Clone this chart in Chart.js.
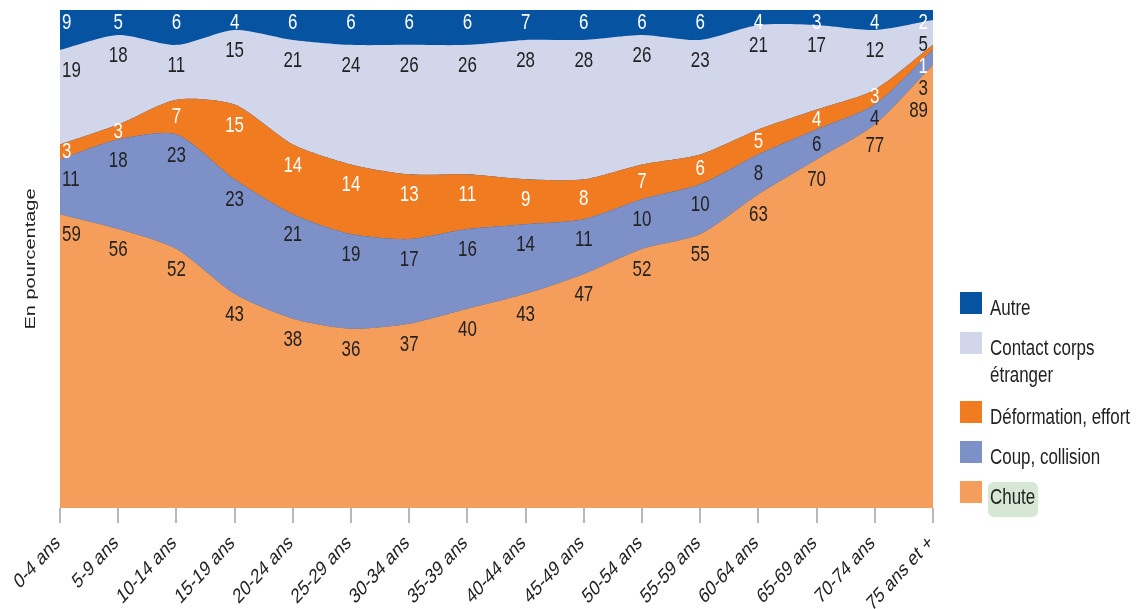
<!DOCTYPE html>
<html lang="fr">
<head>
  <meta charset="UTF-8">
  <title>Accidents selon l'âge</title>
  <script src="https://cdn.jsdelivr.net/npm/chart.js"></script>
  <style>
    html, body { margin: 0; padding: 0; background: #fff; }
    canvas { display: block; }
  </style>
</head>
<body>
  <canvas id="chart" width="1139" height="609"></canvas>
  <script>
    // categories and values (en pourcentage)
    const ageGroups = ['0-4 ans', '5-9 ans', '10-14 ans', '15-19 ans', '20-24 ans', '25-29 ans', '30-34 ans', '35-39 ans',
      '40-44 ans', '45-49 ans', '50-54 ans', '55-59 ans', '60-64 ans', '65-69 ans', '70-74 ans', '75 ans et +'];
    const chute       = [59, 56, 52, 43, 38, 36, 37, 40, 43, 47, 52, 55, 63, 70, 77, 89];
    const coup        = [11, 18, 23, 23, 21, 19, 17, 16, 14, 11, 10, 10, 8, 6, 4, 3];
    const deformation = [3, 3, 7, 15, 14, 14, 13, 11, 9, 8, 7, 6, 5, 4, 3, 1];
    const contact     = [19, 18, 11, 15, 21, 24, 26, 26, 28, 28, 26, 23, 21, 17, 12, 5];
    const autre       = [9, 5, 6, 4, 6, 6, 6, 6, 7, 6, 6, 6, 4, 3, 4, 2];
    const axisTitle = 'En pourcentage';
    const legendText = {
      'Autre': ['Autre'],
      'Contact corps étranger': ['Contact corps', 'étranger'],
      'Déformation, effort': ['Déformation, effort'],
      'Coup, collision': ['Coup, collision'],
      'Chute': ['Chute']
    };

    const FONT = '"Liberation Sans", Arial, sans-serif';
    const SX = 0.77; // text in the reference is squeezed horizontally

    function squeezedText(ctx, text, x, y, size, color, align, angle) {
      ctx.save();
      ctx.translate(x, y);
      ctx.scale(SX, 1);
      if (angle) ctx.rotate(angle);
      ctx.font = size + 'px ' + FONT;
      ctx.fillStyle = color;
      ctx.textAlign = align;
      ctx.textBaseline = 'middle';
      ctx.fillText(text, 0, 0);
      ctx.restore();
    }

    function band(label, data, color, textColor, fill) {
      return {
        label: label, data: data, backgroundColor: color, borderColor: color,
        borderWidth: 0, pointRadius: 0, tension: 0.25, fill: fill, textColor: textColor
      };
    }

    // plot background in the "Autre" colour so rows summing to 99 show no gap
    const backdrop = {
      id: 'backdrop',
      beforeDatasetsDraw(chart) {
        const a = chart.chartArea, ctx = chart.ctx;
        ctx.save();
        ctx.fillStyle = chart.data.datasets[chart.data.datasets.length - 1].backgroundColor;
        ctx.fillRect(a.left, a.top, a.right - a.left, a.bottom - a.top);
        ctx.restore();
      }
    };

    const decorations = {
      id: 'decorations',
      afterDatasetsDraw(chart) {
        const ctx = chart.ctx, a = chart.chartArea;
        const ds = chart.data.datasets;
        const y0 = chart.scales.y.getPixelForValue(0);
        const n = chart.data.labels.length;

        // value labels under the top edge of each band, top band first, kept apart
        for (let i = 0; i < n; i++) {
          let prev = -Infinity;
          for (let di = ds.length - 1; di >= 0; di--) {
            const pt = chart.getDatasetMeta(di).data[i];
            const top = Math.max(pt.y, a.top);
            const bottom = di === 0 ? y0 : chart.getDatasetMeta(di - 1).data[i].y;
            let y = top + Math.min(21, (bottom - top) / 2);
            if (di === ds.length - 1) y = a.top + 13;
            y = Math.max(y, prev + 22);
            prev = y;
            let x = pt.x, align = 'center';
            if (i === 0) { x = pt.x + 2; align = 'left'; }
            if (i === n - 1) { x = pt.x - 5; align = 'right'; }
            squeezedText(ctx, String(ds[di].data[i]), x, y, 22, ds[di].textColor, align, 0);
          }
        }

        // x tick labels, rotated
        const xs = chart.scales.x;
        chart.data.labels.forEach((lab, i) => {
          const x = xs.getPixelForTick(i);
          squeezedText(ctx, lab, x - 2, a.bottom + 32, 21, '#222', 'right', -40 * Math.PI / 180);
        });

        // y title
        squeezedText(ctx, axisTitle, 31, (a.top + a.bottom) / 2, 20, '#222', 'center', -Math.PI / 2);

        // legend, top to bottom
        let ly = 292;
        ds.slice().reverse().forEach(d => {
          const lines = legendText[d.label];
          ctx.fillStyle = d.backgroundColor;
          ctx.fillRect(960, ly, 22, 22);
          if (d.label === 'Chute') {
            ctx.save();
            ctx.fillStyle = '#d6e7d3';
            ctx.beginPath();
            ctx.roundRect(988, ly + 1, 50, 35, 6);
            ctx.fill();
            ctx.restore();
          }
          lines.forEach((t, k) => {
            squeezedText(ctx, t, 990, ly + 17 + k * 27, 22, '#222', 'left', 0);
          });
          ly += 40 + (lines.length - 1) * 29;
        });
      }
    };

    new Chart(document.getElementById('chart'), {
      type: 'line',
      data: {
        labels: ageGroups,
        datasets: [
          band('Chute', chute, '#f59d5b', '#222', 'origin'),
          band('Coup, collision', coup, '#7e90c8', '#222', '-1'),
          band('Déformation, effort', deformation, '#f07b21', '#fff', '-1'),
          band('Contact corps étranger', contact, '#d1d6eb', '#222', '-1'),
          band('Autre', autre, '#0653a2', '#fff', '-1')
        ]
      },
      options: {
        responsive: false,
        animation: false,
        devicePixelRatio: 1,
        layout: { padding: { left: 60, right: 206, top: 10, bottom: 86 } },
        plugins: { legend: { display: false }, tooltip: { enabled: false } },
        scales: {
          x: {
            offset: false,
            border: { display: false },
            grid: { drawOnChartArea: false, drawTicks: true, tickLength: 15, color: '#b9b9b9', lineWidth: 2 },
            ticks: { display: false, autoSkip: false }
          },
          y: { display: false, stacked: true, min: 0, max: 100 }
        }
      },
      plugins: [backdrop, decorations]
    });
  </script>
</body>
</html>
